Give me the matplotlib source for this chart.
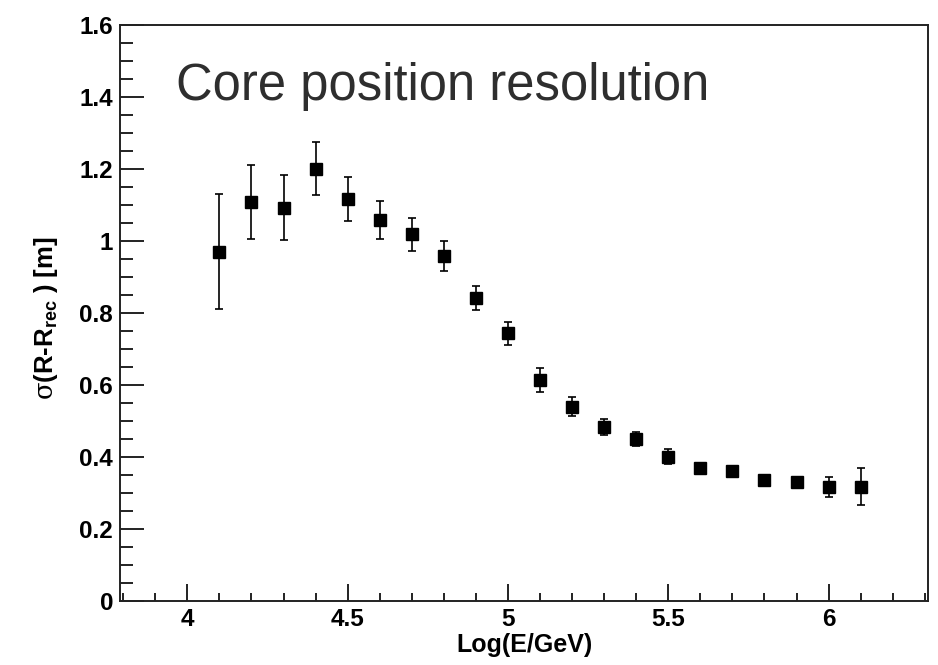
"""
Core position resolution vs. energy — ROOT-style error-bar plot.
"""

import matplotlib
matplotlib.use("Agg")
import matplotlib.pyplot as plt
import matplotlib.ticker as ticker

# --- data ---------------------------------------------------------------------
log_e = [4.1, 4.2, 4.3, 4.4, 4.5, 4.6, 4.7, 4.8, 4.9, 5.0,
         5.1, 5.2, 5.3, 5.4, 5.5, 5.6, 5.7, 5.8, 5.9, 6.0, 6.1]
sigma_r = [0.969, 1.107, 1.091, 1.200, 1.116, 1.057, 1.017, 0.958, 0.841, 0.743,
           0.613, 0.539, 0.481, 0.449, 0.400, 0.369, 0.361, 0.334, 0.329, 0.316, 0.317]
err_lo = [0.158, 0.102, 0.089, 0.073, 0.062, 0.053, 0.046, 0.042, 0.034, 0.033,
          0.034, 0.026, 0.021, 0.020, 0.020, 0.012, 0.012, 0.008, 0.008, 0.028, 0.051]
err_hi = [0.160, 0.104, 0.092, 0.075, 0.061, 0.054, 0.046, 0.042, 0.034, 0.031,
          0.034, 0.028, 0.024, 0.020, 0.021, 0.012, 0.012, 0.008, 0.008, 0.028, 0.052]

TITLE = "Core position resolution"
X_LABEL = "Log(E/GeV)"
Y_LABEL = r"$\mathsf{σ}$(R-R$_{\mathregular{rec}}$ ) [m]"

# --- style --------------------------------------------------------------------
plt.rcParams["font.family"] = ["Liberation Sans", "DejaVu Sans"]
plt.rcParams["mathtext.fontset"] = "custom"
plt.rcParams["mathtext.rm"] = "Liberation Sans:bold"
plt.rcParams["mathtext.sf"] = "DejaVu Serif"

fig = plt.figure(figsize=(9.38, 6.65), dpi=100)
ax = fig.add_axes([120 / 938, 1 - 600.7 / 665, (928 - 120) / 938, (600.7 - 24.5) / 665])

ax.errorbar(log_e, sigma_r, yerr=[err_lo, err_hi], fmt="s", color="black",
            markersize=9, elinewidth=1.2, capsize=2.8, capthick=1.2)

ax.set_xlim(3.79, 6.31)
ax.set_ylim(0, 1.6)

ax.xaxis.set_major_locator(ticker.MultipleLocator(0.5))
ax.xaxis.set_minor_locator(ticker.MultipleLocator(0.1))
ax.yaxis.set_major_locator(ticker.MultipleLocator(0.2))
ax.yaxis.set_minor_locator(ticker.MultipleLocator(0.05))
ax.xaxis.set_major_formatter(ticker.FuncFormatter(lambda v, p: f"{v:g}"))
ax.yaxis.set_major_formatter(ticker.FuncFormatter(lambda v, p: f"{v:g}"))

ax.tick_params(axis="both", which="both", direction="in", top=False, right=False,
               width=1.4, color="#222222")
ax.tick_params(axis="y", which="major", length=17, pad=5)
ax.tick_params(axis="y", which="minor", length=9)
ax.tick_params(axis="x", which="major", length=12, pad=5)
ax.tick_params(axis="x", which="minor", length=6)
for lab in ax.get_xticklabels() + ax.get_yticklabels():
    lab.set_fontsize(17.5)
    lab.set_fontweight("bold")

for sp in ax.spines.values():
    sp.set_linewidth(1.4)
    sp.set_color("#222222")

ax.set_xlabel(X_LABEL, fontsize=18, fontweight="bold", labelpad=2)
ax.set_ylabel(Y_LABEL, fontsize=18.5, fontweight="bold")
ax.yaxis.set_label_coords(-60 / 808, 0.49)

ax.text(3.965, 1.39, TITLE, fontsize=36.5, color="#2e2e2e", ha="left", va="baseline")

fig.savefig("out.png", dpi=100)
